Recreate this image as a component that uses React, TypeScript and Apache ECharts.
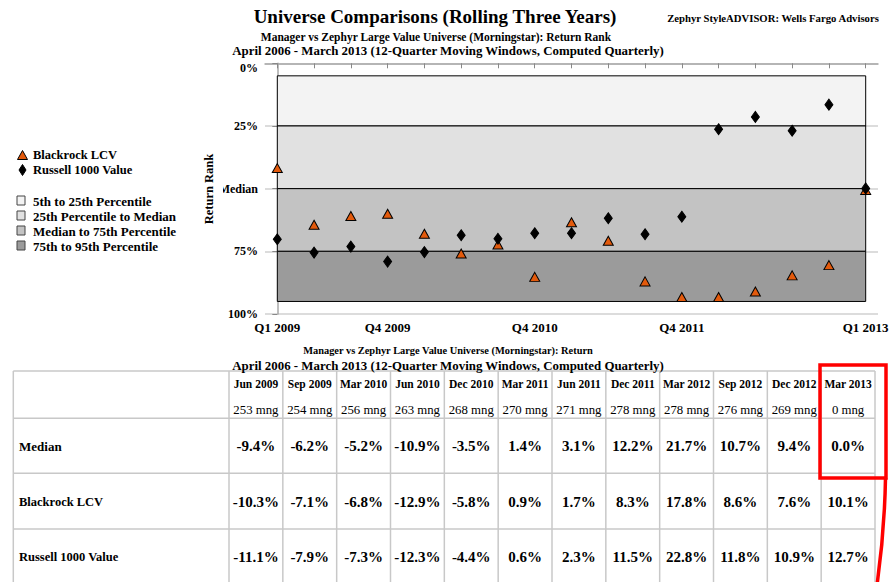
import React, { useEffect, useRef } from "react";
import * as echarts from "echarts";

// ---------- data ----------
const quarters = [
  "Q1 2009", "Q2 2009", "Q3 2009", "Q4 2009", "Q1 2010", "Q2 2010", "Q3 2010", "Q4 2010",
  "Q1 2011", "Q2 2011", "Q3 2011", "Q4 2011", "Q1 2012", "Q2 2012", "Q3 2012", "Q4 2012", "Q1 2013",
];
const labeledQuarters = ["Q1 2009", "Q4 2009", "Q4 2010", "Q4 2011", "Q1 2013"];
const blackrockRank = [41.8, 64.4, 60.9, 60.0, 68.0, 75.9, 72.3, 85.2, 63.4, 70.8, 87.0, 93.2, 93.2, 91.0, 84.6, 80.5, 50.5];
const russellRank = [70.2, 75.5, 73.1, 79.1, 75.3, 68.6, 70.0, 67.8, 67.8, 61.8, 68.2, 61.2, 26.3, 21.4, 26.9, 16.5, 49.9];
const rankTicks = [0, 25, 50, 75, 100];
const rankTickLabels = ["0%", "25%", "Median", "75%", "100%"];
const bandEdges = [5, 25, 50, 75, 95];
const bandNames = ["5th to 25th Percentile", "25th Percentile to Median", "Median to 75th Percentile", "75th to 95th Percentile"];
const bandColors = ["#f3f3f3", "#e1e1e1", "#c3c3c3", "#9b9b9b"];
const seriesNames = ["Blackrock LCV", "Russell 1000 Value"];

const tableDates = ["Jun 2009", "Sep 2009", "Mar 2010", "Jun 2010", "Dec 2010", "Mar 2011", "Jun 2011", "Dec 2011", "Mar 2012", "Sep 2012", "Dec 2012", "Mar 2013"];
const tableCounts = [253, 254, 256, 263, 268, 270, 271, 278, 278, 276, 269, 0];
const tableRowNames = ["Median", "Blackrock LCV", "Russell 1000 Value"];
const medianReturn = [-9.4, -6.2, -5.2, -10.9, -3.5, 1.4, 3.1, 12.2, 21.7, 10.7, 9.4, 0.0];
const blackrockReturn = [-10.3, -7.1, -6.8, -12.9, -5.8, 0.9, 1.7, 8.3, 17.8, 8.6, 7.6, 10.1];
const russellReturn = [-11.1, -7.9, -7.3, -12.3, -4.4, 0.6, 2.3, 11.5, 22.8, 11.8, 10.9, 12.7];
const tableRows = [medianReturn, blackrockReturn, russellReturn];

const mainTitle = "Universe Comparisons (Rolling Three Years)";
const brandText = "Zephyr StyleADVISOR: Wells Fargo Advisors";
const chartSub1 = "Manager vs Zephyr Large Value Universe (Morningstar): Return Rank";
const chartSub2 = "April 2006 - March 2013 (12-Quarter Moving Windows, Computed Quarterly)";
const tableSub1 = "Manager vs Zephyr Large Value Universe (Morningstar): Return";
const tableSub2 = "April 2006 - March 2013 (12-Quarter Moving Windows, Computed Quarterly)";
const yAxisTitle = "Return Rank";

// ---------- style ----------
const FONT = "'Liberation Serif', 'Times New Roman', serif";
const ORANGE = "#e35a0c";

function txt(x: number, y: number, text: string, size: number, weight = "bold", align = "center", extra: any = {}) {
  return {
    type: "text",
    x,
    y,
    silent: true,
    z: 20,
    ...extra,
    style: {
      text,
      font: `${weight} ${size}px ${FONT}`,
      fill: "#000",
      align,
      verticalAlign: "middle",
      textAlign: align,
      textVerticalAlign: "middle",
    },
  };
}

function line(x1: number, y1: number, x2: number, y2: number, stroke: string, lineWidth: number) {
  return { type: "line", silent: true, z: 15, shape: { x1, y1, x2, y2 }, style: { stroke, lineWidth } };
}

function buildGraphics() {
  const g: any[] = [];
  // titles
  g.push(txt(435, 16, mainTitle, 19));
  g.push(txt(773, 18, brandText, 10.7));
  g.push(txt(436, 37, chartSub1, 11.5));
  g.push(txt(448, 51, chartSub2, 12.9));
  // y axis title
  g.push(txt(209, 189, yAxisTitle, 12.5, "bold", "center", { rotation: Math.PI / 2 }));
  // clip of "Median" label
  g.push({ type: "rect", silent: true, z: 19, shape: { x: 216, y: 181, width: 7, height: 15 }, style: { fill: "#fff" } });

  // legend: series
  g.push({
    type: "polygon", silent: true, z: 20,
    shape: { points: [[17.5, 159.5], [27.5, 159.5], [22.5, 150.5]] },
    style: { fill: ORANGE, stroke: "#000", lineWidth: 1 },
  });
  g.push(txt(33, 155, seriesNames[0], 12.5, "bold", "left"));
  g.push({
    type: "polygon", silent: true, z: 20,
    shape: { points: [[22.5, 164.5], [26, 170], [22.5, 175.5], [19, 170]] },
    style: { fill: "#000", stroke: "#000", lineWidth: 1 },
  });
  g.push(txt(33, 170, seriesNames[1], 12.5, "bold", "left"));
  // legend: bands
  bandNames.forEach((name, i) => {
    const cy = 201 + i * 15;
    g.push({
      type: "rect", silent: true, z: 20,
      shape: { x: 17, y: cy - 5, width: 8, height: 9 },
      style: { fill: bandColors[i], stroke: "#444", lineWidth: 1 },
    });
    g.push(txt(33, cy, name, 13, "bold", "left"));
  });

  // table titles
  g.push(txt(448, 350, tableSub1, 10.4));
  g.push(txt(448, 366, tableSub2, 12.9));

  // table grid
  const tLeft = 13.3;
  const tFirst = 229;
  const tRight = 875;
  const colW = (tRight - tFirst) / tableDates.length;
  const hLines = [371, 418.3, 473.3, 529];
  const GRID = "#c8c8c8";
  hLines.forEach((y) => g.push(line(tLeft, y, tRight, y, GRID, 1.5)));
  g.push(line(tLeft, 371, tLeft, 590, GRID, 1.5));
  for (let i = 0; i <= tableDates.length; i++) {
    const x = tFirst + i * colW;
    g.push(line(x, 371, x, 590, GRID, 1.5));
  }
  tableDates.forEach((d, i) => {
    const cx = tFirst + (i + 0.5) * colW;
    g.push(txt(cx, 384, d, 11.5));
    g.push(txt(cx, 410, `${tableCounts[i]} mng`, 12.8, "normal"));
  });
  const rowY = [446, 502, 557];
  tableRowNames.forEach((name, r) => {
    g.push(txt(19, rowY[r], name, r === 0 ? 13 : 12.5, "bold", "left"));
    tableRows[r].forEach((v, i) => {
      const cx = tFirst + (i + 0.5) * colW;
      g.push(txt(cx, rowY[r], `${v.toFixed(1)}%`, 15));
    });
  });

  // red highlight
  g.push({
    type: "rect", silent: true, z: 30,
    shape: { x: 820, y: 365, width: 66, height: 113 },
    style: { fill: "none", stroke: "#ff0000", lineWidth: 3.5 },
  });
  g.push({
    type: "bezierCurve", silent: true, z: 30,
    shape: { x1: 885.5, y1: 478, cpx1: 884.5, cpy1: 535, x2: 876, y2: 592 },
    style: { fill: "none", stroke: "#ff0000", lineWidth: 3.5 },
  });
  return g;
}

export default function App() {
  const ref = useRef<HTMLDivElement>(null);

  useEffect(() => {
    if (!ref.current) return;
    const chart = echarts.init(ref.current, undefined, { renderer: "svg" });
    const pad = 0.3345;
    const labeledIdx = labeledQuarters.map((q) => quarters.indexOf(q));
    const tickIdx = quarters.map((_, i) => i);

    const bandData = bandNames.map((name, i) => [
      { name, xAxis: 0, yAxis: bandEdges[i], itemStyle: { color: bandColors[i] } },
      { xAxis: quarters.length - 1, yAxis: bandEdges[i + 1] },
    ]);

    chart.setOption({
      animation: false,
      backgroundColor: "#fff",
      textStyle: { fontFamily: FONT },
      grid: { left: 265, right: 18, top: 63.3, bottom: 268, containLabel: false },
      xAxis: {
        type: "value",
        min: -pad,
        max: quarters.length - 1 + pad,
        axisLine: { show: true, lineStyle: { color: "#a8a8a8", width: 1.5 } },
        axisTick: { show: true, length: 5, customValues: tickIdx, lineStyle: { color: "#888", width: 1 } },
        axisLabel: {
          customValues: labeledIdx,
          formatter: (v: number) => quarters[Math.round(v)] ?? "",
          color: "#000",
          fontWeight: "bold",
          fontSize: 13,
          fontFamily: FONT,
          margin: 7,
        },
        splitLine: { show: false },
      },
      yAxis: {
        type: "value",
        inverse: true,
        min: 0,
        max: 100,
        interval: 25,
        axisLine: { show: true, lineStyle: { color: "#a8a8a8", width: 1.5 } },
        axisTick: { show: true, length: 5, lineStyle: { color: "#888" } },
        axisLabel: {
          formatter: (v: number) => {
            const label = rankTickLabels[rankTicks.indexOf(v)] ?? "";
            return v === rankTicks[0] ? `{top|${label}}` : label;
          },
          rich: {
            top: {
              padding: [10, 0, 0, 0],
              fontWeight: "bold",
              fontSize: 12,
              fontFamily: FONT,
              color: "#000",
            },
          },
          color: "#000",
          fontWeight: "bold",
          fontSize: 12,
          fontFamily: FONT,
          margin: 7,
        },
        splitLine: { show: true, lineStyle: { color: "#d0d0d0", width: 1.5 } },
      },
      series: [
        {
          name: "bands",
          type: "scatter",
          data: [],
          z: 1,
          silent: true,
          markArea: {
            silent: true,
            itemStyle: { borderColor: "#000", borderWidth: 1 },
            label: { show: false },
            data: bandData,
          },
        },
        {
          name: seriesNames[0],
          type: "scatter",
          z: 3,
          symbol: "triangle",
          symbolSize: [10, 9],
          itemStyle: { color: ORANGE, borderColor: "#000", borderWidth: 1, opacity: 1 },
          data: blackrockRank.map((v, i) => [i, v]),
        },
        {
          name: seriesNames[1],
          type: "scatter",
          z: 4,
          symbol: "diamond",
          symbolSize: [8, 11],
          itemStyle: { color: "#000", borderColor: "#000", borderWidth: 1, opacity: 1 },
          data: russellRank.map((v, i) => [i, v]),
        },
      ],
      graphic: { elements: buildGraphics() },
    });
    return () => chart.dispose();
  }, []);

  return (
    <div
      ref={ref}
      style={{ position: "fixed", left: 0, top: 0, width: 896, height: 582, background: "#fff" }}
    />
  );
}
